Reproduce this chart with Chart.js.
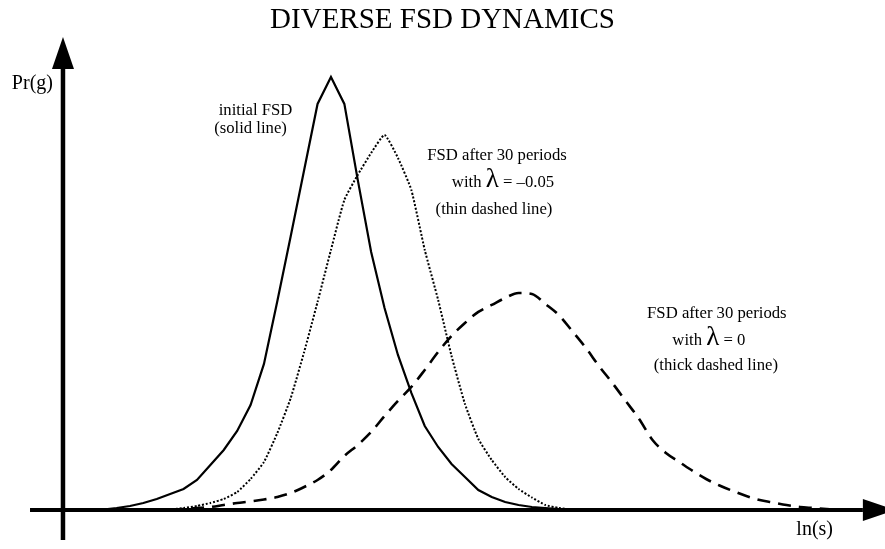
<!DOCTYPE html>
<html>
<head>
<meta charset="utf-8">
<title>Diverse FSD dynamics</title>
<script src="https://cdn.jsdelivr.net/npm/chart.js@4.4.1/dist/chart.umd.min.js"></script>
<style>
  html, body { margin: 0; padding: 0; background: #fff; }
  #wrap { width: 885px; height: 549px; }
</style>
</head>
<body>
<div id="wrap"><canvas id="fsd"></canvas></div>
<script>
// ln(s) grid (arbitrary units, origin at the Pr(g) axis)
const lnS = [2, 3, 4, 5, 6, 7, 8, 9, 10, 11, 12, 13, 14, 15, 16, 17, 18, 19, 20,
  21, 22, 23, 24, 25, 26, 27, 28, 29, 30, 31, 32, 33, 34, 35, 36, 37, 38, 39, 40,
  41, 42, 43, 44, 45, 46, 47, 48, 49, 50, 51, 52, 53, 54, 55, 56, 57, 58];

// initial firm size distribution (solid line)
const initialFSD = [0, 0.1, 0.4, 0.8, 1.4, 2.2, 3.2, 4.2, 6.0, 9.0, 12.0, 15.8, 21.0,
  29.2, 41.8, 54.8, 68.0, 81.2, 86.6, 81.2, 66.0, 51.6, 40.4, 31.0, 23.4, 16.8, 12.6,
  9.2, 6.6, 4.0, 2.6, 1.6, 1.0, 0.6, 0.4, 0.2, 0,
  null, null, null, null, null, null, null, null, null, null,
  null, null, null, null, null, null, null, null, null, null];

// FSD after 30 periods, lambda = -0.05 (thin dashed line)
const fsdLambdaNeg = [null, null, null, null, null,
  0, 0.1, 0.4, 0.8, 1.4, 2.2, 3.6, 6.2, 9.6, 15.4, 22.4, 31.6, 41.6, 52.0, 62.0,
  67.0, 71.4, 75.0, 70.4, 64.0, 52.0, 42.0, 30.8, 21.2, 14.2, 10.0, 6.6, 4.2, 2.5,
  1.0, 0.4, 0.1, 0,
  null, null, null, null, null, null, null, null, null, null,
  null, null, null, null, null, null, null, null, null];

// FSD after 30 periods, lambda = 0 (thick dashed line)
const fsdLambdaZero = [null, null, null, null, null, null,
  0, 0.2, 0.4, 0.6, 1.0, 1.4, 1.7, 2.1, 2.6, 3.4, 4.6, 6.0, 8.0, 10.8, 13.0, 15.6,
  18.8, 21.8, 24.6, 28.0, 31.6, 34.8, 37.4, 39.6, 41.0, 42.4, 43.4, 43.2, 41.2, 39.0,
  35.8, 32.5, 28.8, 25.4, 21.8, 18.2, 14.0, 11.4, 9.6, 7.8, 6.2, 4.9, 3.8, 2.8, 2.0,
  1.5, 1.0, 0.6, 0.4, 0.2, 0];

const chartTitle = 'DIVERSE FSD DYNAMICS';
const yAxisLabel = 'Pr(g)';
const xAxisLabel = 'ln(s)';

// curve annotations: anchor (ln(s), Pr) at first baseline, lines below it
const notes = [
  { x: 14.37, y: 79, lines: [
    { dx: 0, dy: 0, parts: ['initial FSD'] },
    { dx: -5, dy: 18, parts: ['(solid line)'] } ] },
  { x: 32.39, y: 70, lines: [
    { dx: 0, dy: 0, parts: ['FSD after 30 periods'] },
    { dx: 6, dy: 27, parts: ['with ', 'λ', ' = –0.05'] },
    { dx: -3, dy: 54, parts: ['(thin dashed line)'] } ] },
  { x: 48.8, y: 38.4, lines: [
    { dx: 0, dy: 0, parts: ['FSD after 30 periods'] },
    { dx: -8, dy: 27, parts: ['with ', 'λ', ' = 0'] },
    { dx: -1, dy: 52, parts: ['(thick dashed line)'] } ] }
];

const SERIF = '"Liberation Serif", "Times New Roman", Times, serif';

const toPoints = vals => lnS.map((s, i) => ({ x: s, y: vals[i] }));

// draws both axes with arrowheads, axis names and the curve annotations
const axesAndNotes = {
  id: 'axesAndNotes',
  afterDatasetsDraw(chart) {
    const { ctx, scales: { x, y } } = chart;
    const ox = x.getPixelForValue(0);
    const oy = y.getPixelForValue(0);
    ctx.save();
    ctx.fillStyle = '#000';
    ctx.strokeStyle = '#000';
    ctx.lineCap = 'butt';

    // horizontal axis
    const xl = x.getPixelForValue(-2.46);
    const xr = x.getPixelForValue(59.7);
    ctx.lineWidth = 4;
    ctx.beginPath(); ctx.moveTo(xl, oy); ctx.lineTo(xr, oy); ctx.stroke();
    ctx.beginPath();
    ctx.moveTo(xr, oy - 11); ctx.lineTo(xr + 32, oy); ctx.lineTo(xr, oy + 11);
    ctx.closePath(); ctx.fill();

    // vertical axis
    const yb = y.getPixelForValue(-6);
    const yt = y.getPixelForValue(88.2);
    ctx.lineWidth = 4.5;
    ctx.beginPath(); ctx.moveTo(ox, yb); ctx.lineTo(ox, yt); ctx.stroke();
    ctx.beginPath();
    ctx.moveTo(ox - 11, yt); ctx.lineTo(ox, yt - 32); ctx.lineTo(ox + 11, yt);
    ctx.closePath(); ctx.fill();

    // axis names
    ctx.font = '20px ' + SERIF;
    ctx.textBaseline = 'alphabetic';
    ctx.textAlign = 'right';
    ctx.fillText(yAxisLabel, ox - 10, y.getPixelForValue(85.4) + 6);
    ctx.textAlign = 'center';
    ctx.fillText(xAxisLabel, x.getPixelForValue(56.1), oy + 25);

    // annotations; the Greek letter is set larger than the rest
    ctx.textAlign = 'left';
    notes.forEach(n => {
      const ax = x.getPixelForValue(n.x);
      const ay = y.getPixelForValue(n.y);
      n.lines.forEach(line => {
        const fonts = line.parts.map(p => (p === 'λ' ? '27px ' : '16.7px ') + SERIF);
        let total = 0;
        const widths = line.parts.map((p, i) => {
          ctx.font = fonts[i];
          const w = ctx.measureText(p).width;
          total += w;
          return w;
        });
        let cx = ax + line.dx - total / 2;
        line.parts.forEach((p, i) => {
          ctx.font = fonts[i];
          ctx.fillText(p, cx, ay + line.dy);
          cx += widths[i];
        });
      });
    });
    ctx.restore();
  }
};

new Chart(document.getElementById('fsd'), {
  type: 'line',
  data: {
    datasets: [
      { label: 'initial FSD', data: toPoints(initialFSD),
        borderColor: '#000', borderWidth: 2.2, tension: 0 },
      { label: 'FSD after 30 periods, λ = –0.05', data: toPoints(fsdLambdaNeg),
        borderColor: '#000', borderWidth: 2, borderDash: [2, 1.8], tension: 0.15 },
      { label: 'FSD after 30 periods, λ = 0', data: toPoints(fsdLambdaZero),
        borderColor: '#000', borderWidth: 2.6, borderDash: [13, 8],
        cubicInterpolationMode: 'monotone' }
    ]
  },
  options: {
    responsive: true,
    maintainAspectRatio: false,
    animation: false,
    layout: { padding: 0 },
    elements: { point: { radius: 0 }, line: { fill: false, borderCapStyle: 'butt', borderJoinStyle: 'miter' } },
    scales: {
      x: { type: 'linear', display: false, min: -4.70, max: 61.35 },
      y: { type: 'linear', display: false, min: -7.8, max: 95.1 }
    },
    plugins: {
      legend: { display: false },
      tooltip: { enabled: false },
      title: {
        display: true,
        text: chartTitle,
        color: '#000',
        font: { family: SERIF, size: 29, weight: 'normal', lineHeight: 1 },
        padding: { top: 5.4, bottom: 0 }
      }
    }
  },
  plugins: [axesAndNotes]
});
</script>
</body>
</html>
